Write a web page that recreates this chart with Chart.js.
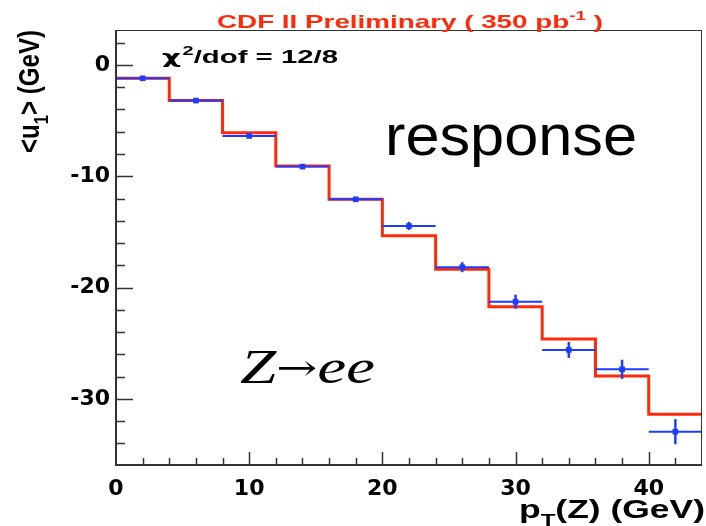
<!DOCTYPE html>
<html>
<head>
<meta charset="utf-8">
<title>Recoil response vs pT(Z)</title>
<script src="https://cdn.jsdelivr.net/npm/chart.js@4/dist/chart.umd.min.js"></script>
<style>
  html, body { margin: 0; padding: 0; background: #fff; }
  #wrap { width: 706px; height: 526px; }
</style>
</head>
<body>
<div id="wrap"><canvas id="respChart" width="706" height="526"></canvas></div>
<script>
// bins of pT(Z), 4 GeV wide
const binEdges = [0, 4, 8, 12, 16, 20, 24, 28, 32, 36, 40, 44];
const binCenters = [2, 6, 10, 14, 18, 22, 26, 30, 34, 38, 42];

// simulation (red histogram)
const simResponse = [-1.2, -3.2, -6.1, -9.07, -12.07, -15.34, -18.35, -21.72, -24.62, -27.94, -31.38];

// Z->ee data points and their errors (blue)
const dataResponse = [-1.2, -3.2, -6.38, -9.13, -12.07, -14.47, -18.17, -21.27, -25.6, -27.34, -32.95];
const dataError = [0.12, 0.12, 0.14, 0.15, 0.18, 0.36, 0.45, 0.63, 0.72, 0.86, 1.13];

const yMin = -35.94, yMax = 3.14;
const xMin = 0, xMax = 44;

const RED = '#ff2a0a';
const BLUE = '#1e3cff';
const AXIS = '#333333';
const SANS = '"Liberation Sans", Arial, sans-serif';

// histogram outline: one point per bin edge, last value repeated
const histPoints = binEdges.map((e, i) => ({ x: e, y: simResponse[Math.min(i, simResponse.length - 1)] }));
const dataPoints = binCenters.map((c, i) => ({ x: c, y: dataResponse[i] }));

// draws text pieces (with sub/superscripts); stretched to width w when given
function drawRich(ctx, parts, x, y, size, weight, align, w, sy) {
  const fontOf = p => {
    const s = p.sub || p.sup ? size * 0.68 : (p.size || size);
    return (p.style || '') + ' ' + weight + ' ' + s + 'px ' + (p.family || SANS);
  };
  let total = 0;
  const widths = parts.map(p => {
    ctx.font = fontOf(p);
    const pw = ctx.measureText(p.t).width + (p.gap || 0);
    total += pw;
    return pw;
  });
  const sx = w ? w / total : 1;
  const full = total * sx;
  const x0 = align === 'right' ? x - full : align === 'center' ? x - full / 2 : x;
  ctx.save();
  ctx.translate(x0, y);
  ctx.scale(sx, sy || 1);
  let cx = 0;
  parts.forEach((p, i) => {
    ctx.font = fontOf(p);
    let dy = p.dy || 0;
    if (p.sub) dy = size * 0.3;
    if (p.sup) dy = -size * 0.42;
    ctx.fillText(p.t, cx, dy);
    cx += widths[i];
  });
  ctx.restore();
}

const decorations = {
  id: 'decorations',
  afterDatasetsDraw(chart) {
    const ctx = chart.ctx;
    const xs = chart.scales.x, ys = chart.scales.y;
    const area = chart.chartArea;

    // error bars for the data
    ctx.save();
    ctx.strokeStyle = BLUE;
    for (let i = 0; i < binCenters.length; i++) {
      const px = xs.getPixelForValue(binCenters[i]);
      const py = ys.getPixelForValue(dataResponse[i]);
      ctx.lineWidth = 2;
      ctx.beginPath();
      ctx.moveTo(xs.getPixelForValue(binEdges[i]), py);
      ctx.lineTo(Math.min(xs.getPixelForValue(binEdges[i + 1]), area.right), py);
      ctx.stroke();
      ctx.lineWidth = 2.5;
      ctx.beginPath();
      ctx.moveTo(px, ys.getPixelForValue(dataResponse[i] + dataError[i]));
      ctx.lineTo(px, ys.getPixelForValue(dataResponse[i] - dataError[i]));
      ctx.stroke();
    }
    ctx.restore();
  },
  afterDraw(chart) {
    const ctx = chart.ctx;
    const xs = chart.scales.x, ys = chart.scales.y;
    const a = chart.chartArea;
    ctx.save();

    // frame
    ctx.strokeStyle = AXIS;
    ctx.lineWidth = 1;
    ctx.beginPath();
    ctx.moveTo(a.left, a.top + 0.5);
    ctx.lineTo(a.right, a.top + 0.5);
    ctx.moveTo(a.right - 0.5, a.top);
    ctx.lineTo(a.right - 0.5, a.bottom);
    ctx.stroke();
    ctx.lineWidth = 2;
    ctx.beginPath();
    ctx.moveTo(a.left, a.top);
    ctx.lineTo(a.left, a.bottom);
    ctx.lineTo(a.right, a.bottom);
    ctx.stroke();

    // y ticks, pointing into the frame
    ctx.lineWidth = 1.5;
    ctx.beginPath();
    for (let v = -34; v <= 2; v += 2) {
      const py = Math.round(ys.getPixelForValue(v)) + 0.5;
      const len = v % 10 === 0 ? 17 : 9;
      ctx.moveTo(a.left, py);
      ctx.lineTo(a.left + len, py);
    }
    // x ticks
    for (let v = 2; v <= 42; v += 2) {
      const px = Math.round(xs.getPixelForValue(v)) + 0.5;
      const len = v % 10 === 0 ? 13 : 7;
      ctx.moveTo(px, a.bottom);
      ctx.lineTo(px, a.bottom - len);
    }
    ctx.stroke();

    ctx.textBaseline = 'alphabetic';

    // header
    ctx.fillStyle = RED;
    drawRich(ctx, [{ t: 'CDF II Preliminary ( 350 pb' }, { t: '-1', sup: true }, { t: ' )' }],
      217, 28, 19, 'bold', 'left', 386);

    ctx.fillStyle = '#000';
    // fit quality
    drawRich(ctx, [{ t: 'χ', family: '"DejaVu Sans", sans-serif', style: '', gap: 1 }, { t: '2', sup: true }, { t: '/dof = 12/8' }],
      162, 63, 18, 'bold', 'left', 176);

    // labels inside the frame
    drawRich(ctx, [{ t: 'response' }], 385, 155, 58, 'normal', 'left', 252);
    drawRich(ctx, [
      { t: 'Z', style: 'italic', family: '"Liberation Serif", serif' },
      { t: '→', family: '"DejaVu Serif", serif', size: 36, dy: -3 },
      { t: 'ee', style: 'italic', family: '"Liberation Serif", serif' }
    ], 240, 383, 48, 'normal', 'left', 135);

    // axis titles
    drawRich(ctx, [{ t: 'p' }, { t: 'T', sub: true }, { t: '(Z) (GeV)' }], 705, 518, 25, 'bold', 'right', 186);

    ctx.translate(39, 30);
    ctx.rotate(-Math.PI / 2);
    drawRich(ctx, [{ t: '<u' }, { t: '1', sub: true }, { t: '> (GeV)' }], 0, 0, 23, 'bold', 'right', 123, 1.3);

    ctx.restore();
  }
};

const ctx = document.getElementById('respChart').getContext('2d');
const chart = new Chart(ctx, {
  type: 'line',
  data: {
    datasets: [
      {
        label: 'simulation',
        data: histPoints,
        stepped: 'before',
        borderColor: RED,
        borderWidth: 3,
        pointRadius: 0,
        fill: false,
        order: 2
      },
      {
        type: 'scatter',
        label: 'Z->ee data',
        data: dataPoints,
        pointStyle: 'rect',
        pointRadius: 4,
        backgroundColor: BLUE,
        borderColor: BLUE,
        borderWidth: 0,
        order: 1
      }
    ]
  },
  options: {
    responsive: false,
    devicePixelRatio: 1,
    animation: false,
    layout: { padding: { top: 30, right: 1, left: 0, bottom: 0 } },
    plugins: {
      legend: { display: false },
      tooltip: { enabled: false }
    },
    scales: {
      x: {
        type: 'linear',
        min: xMin,
        max: xMax,
        grid: { display: false, drawTicks: false },
        border: { display: false },
        ticks: {
          stepSize: 10,
          includeBounds: false,
          padding: 11,
          color: '#000',
          font: { family: '"DejaVu Sans", sans-serif', size: 22, weight: 'bold' }
        },
        afterFit(scale) { scale.height = 61; }
      },
      y: {
        type: 'linear',
        min: yMin,
        max: yMax,
        grid: { display: false, drawTicks: false },
        border: { display: false },
        ticks: {
          stepSize: 10,
          includeBounds: false,
          padding: 6,
          color: '#000',
          font: { family: '"DejaVu Sans", sans-serif', size: 22, weight: 'bold' }
        },
        afterFit(scale) { scale.width = 116; }
      }
    }
  },
  plugins: [decorations]
});
</script>
</body>
</html>
